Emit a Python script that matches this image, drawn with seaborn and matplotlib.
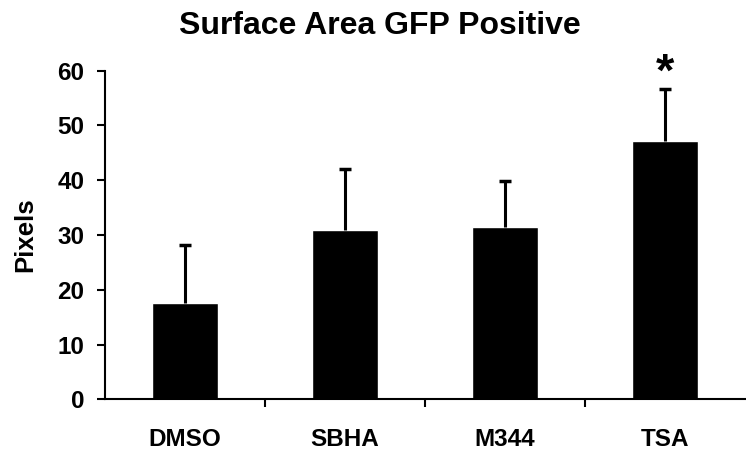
import matplotlib
matplotlib.use("Agg")
import matplotlib.pyplot as plt
import seaborn as sns
import pandas as pd

# Данные
groups = ["DMSO", "SBHA", "M344", "TSA"]
means = [17.6, 31.0, 31.4, 47.1]
errors = [10.5, 11.0, 8.4, 9.5]

df = pd.DataFrame({"group": groups, "pixels": means})

sns.set_style("white", {"text.color": "black", "axes.labelcolor": "black",
                        "xtick.color": "black", "ytick.color": "black"})
plt.rcParams["font.family"] = ["Liberation Sans", "DejaVu Sans"]

fig = plt.figure(figsize=(7.46, 4.54), dpi=100)
ax = fig.add_axes([0.1408, 0.1205, 0.858, 0.7238])

sns.barplot(data=df, x="group", y="pixels", color="black", width=0.41,
            saturation=1, ax=ax, errorbar=None)

# Только верхние «усы»
eb = ax.errorbar(range(len(groups)), means, yerr=[[0] * len(groups), errors],
                 fmt="none", ecolor="black", elinewidth=2.2, capsize=4,
                 capthick=2.5)
eb[1][0].set_visible(False)  # нижняя шапка не нужна

ax.set_xlim(-0.5, 3.5)
ax.set_ylim(0, 60)
ax.set_yticks(range(0, 61, 10))
ax.set_xticks([0.5, 1.5, 2.5], minor=True)

sns.despine(ax=ax)
for side in ["left", "bottom"]:
    ax.spines[side].set_linewidth(1.5)
    ax.spines[side].set_color("black")

ax.tick_params(axis="y", which="major", direction="out", length=6, width=1.5,
               pad=9, labelsize=17.5, left=True, colors="black")
ax.tick_params(axis="x", which="major", length=0, pad=21, labelsize=17.5,
               colors="black")
ax.tick_params(axis="x", which="minor", direction="out", length=6, width=1.5,
               bottom=True, colors="black")
for lab in ax.get_xticklabels() + ax.get_yticklabels():
    lab.set_fontweight("bold")

ax.set_xlabel("")
ax.set_ylabel("Pixels", fontsize=18.5, fontweight="bold", color="black")
ax.yaxis.set_label_coords(-0.106, 0.5)

# Звёздочка значимости над TSA
ax.text(3, 57.2, "*", ha="center", va="baseline", fontsize=34,
        fontweight="bold", color="black", clip_on=False)

fig.text(0.509, 0.943, "Surface Area GFP Positive", ha="center", va="center",
         fontsize=23, fontweight="bold", color="black")

fig.savefig("out.png", dpi=100)
